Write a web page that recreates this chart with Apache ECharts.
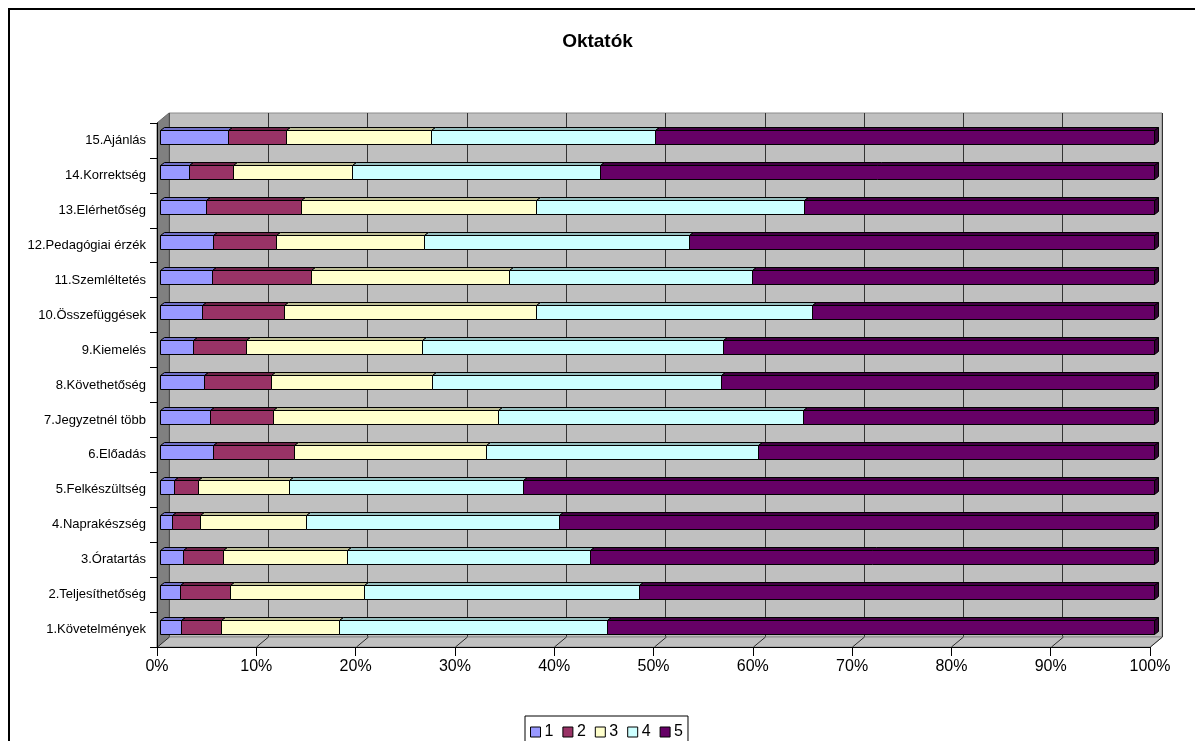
<!DOCTYPE html>
<html>
<head>
<meta charset="utf-8">
<title>Oktatók</title>
<script src="https://cdn.jsdelivr.net/npm/echarts@6/dist/echarts.min.js"></script>
<style>
  html, body { margin: 0; padding: 0; background: #fff; }
  #chart { width: 1195px; height: 741px; }
</style>
</head>
<body>
<div id="chart"></div>
<script>
// Survey items, bottom to top
const categories = [
  '1.Követelmények', '2.Teljesíthetőség', '3.Óratartás', '4.Naprakészség',
  '5.Felkészültség', '6.Előadás', '7.Jegyzetnél több', '8.Követhetőség',
  '9.Kiemelés', '10.Összefüggések', '11.Szemléltetés', '12.Pedagógiai érzék',
  '13.Elérhetőség', '14.Korrektség', '15.Ajánlás'
];

// Share of answers (%) for each rating, per item
const rating1 = [2.1, 2.0, 2.3, 1.2, 1.4, 5.3, 5.0, 4.4, 3.3, 4.2, 5.2, 5.3, 4.6, 2.9, 6.8];
const rating2 = [4.0, 5.0, 4.0, 2.8, 2.4, 8.2, 6.4, 6.8, 5.4, 8.3, 10.0, 6.4, 9.6, 4.4, 5.9];
const rating3 = [11.9, 13.5, 12.5, 10.7, 9.2, 19.3, 22.6, 16.2, 17.7, 25.3, 19.9, 14.9, 23.6, 12.0, 14.6];
const rating4 = [27.0, 27.7, 24.5, 25.4, 23.5, 27.4, 30.7, 29.0, 30.2, 27.8, 24.5, 26.6, 27.0, 25.0, 22.5];
const rating5 = [55.0, 51.8, 56.7, 59.9, 63.5, 39.8, 35.3, 43.6, 43.4, 34.4, 40.4, 46.8, 35.2, 55.7, 50.2];

const seriesNames = ['1', '2', '3', '4', '5'];
const axisTicks = [0, 10, 20, 30, 40, 50, 60, 70, 80, 90, 100];

const ratings = [rating1, rating2, rating3, rating4, rating5];
// front, top and side face colours of each rating
const faceColors = ['#9999FF', '#993366', '#FFFFCC', '#CCFFFF', '#660066'];
const topColors  = ['#7070C8', '#6E2248', '#BDBD96', '#96BDBD', '#440044'];
const sideColors = ['#5C5CA8', '#5A1B3B', '#9E9E7C', '#7C9E9E', '#330033'];

const FONT = "'Liberation Sans', Arial, Helvetica, sans-serif";

// 100% stacked segments: [categoryIndex, startPct, endPct]
const totals = categories.map((_, i) => ratings.reduce((s, r) => s + r[i], 0));
const segments = ratings.map(() => []);
categories.forEach((_, i) => {
  let acc = 0;
  ratings.forEach((r, k) => {
    const start = acc / totals[i] * 100;
    acc += r[i];
    const end = acc / totals[i] * 100;
    segments[k].push([i, start, end]);
  });
});

const DEPTH_X = 4, DEPTH_Y = 3, BAR_H = 14;

function makeRenderer(k) {
  return function (params, api) {
    const cat = api.value(0);
    const a = api.coord([api.value(1), cat]);
    const b = api.coord([api.value(2), cat]);
    const x0 = Math.round(a[0]) + 0.5, x1 = Math.round(b[0]) + 0.5;
    const y0 = Math.round(a[1] - BAR_H / 2) + 0.5, y1 = y0 + BAR_H;
    const line = { stroke: '#000', lineWidth: 1 };
    return {
      type: 'group',
      children: [
        { type: 'polygon',
          shape: { points: [[x1, y0], [x1 + DEPTH_X, y0 - DEPTH_Y], [x1 + DEPTH_X, y1 - DEPTH_Y], [x1, y1]] },
          style: Object.assign({ fill: sideColors[k] }, line) },
        { type: 'polygon',
          shape: { points: [[x0, y0], [x1, y0], [x1 + DEPTH_X, y0 - DEPTH_Y], [x0 + DEPTH_X, y0 - DEPTH_Y]] },
          style: Object.assign({ fill: topColors[k] }, line) },
        { type: 'rect',
          shape: { x: x0, y: y0, width: x1 - x0, height: BAR_H },
          style: Object.assign({ fill: faceColors[k] }, line) }
      ]
    };
  };
}

const chart = echarts.init(document.getElementById('chart'), null, { renderer: 'canvas' });

const option = {
  animation: false,
  backgroundColor: '#fff',
  textStyle: { fontFamily: FONT },
  title: {
    text: 'Oktatók',
    left: 'center',
    top: 32,
    padding: 0,
    textStyle: { fontFamily: FONT, fontWeight: 'bold', fontSize: 19, color: '#000' }
  },
  legend: {
    data: seriesNames,
    left: 525,
    top: 716,
    orient: 'horizontal',
    icon: 'rect',
    itemWidth: 10,
    itemHeight: 10,
    itemGap: 9,
    padding: [8, 5, 8, 5],
    borderColor: '#000',
    borderWidth: 1,
    backgroundColor: '#fff',
    itemStyle: { borderColor: '#000', borderWidth: 1 },
    textStyle: { fontFamily: FONT, fontSize: 16, color: '#000', padding: [0, 0, 0, -1] }
  },
  grid: [
    // back wall
    { left: 169, top: 113, width: 993, height: 524, show: true,
      backgroundColor: '#C0C0C0', borderColor: '#8C8C8C', borderWidth: 1 },
    // front axes
    { left: 157, top: 123, width: 993, height: 524, show: false },
    // bars
    { left: 160, top: 119.5, width: 994, height: 525, show: false }
  ],
  xAxis: [
    { gridIndex: 0, type: 'value', min: 0, max: 100, interval: 10,
      axisLine: { show: false }, axisTick: { show: false }, axisLabel: { show: false },
      splitLine: { show: true, lineStyle: { color: '#333', width: 1 } } },
    { gridIndex: 1, type: 'value', min: 0, max: 100, interval: 10, z: 6,
      axisLine: { show: true, lineStyle: { color: '#000', width: 1 } },
      axisTick: { show: true, length: 9, lineStyle: { color: '#000' } },
      axisLabel: { show: true, margin: 12, fontFamily: FONT, fontSize: 16, color: '#000',
        formatter: v => v + '%' },
      splitLine: { show: false } },
    { gridIndex: 2, type: 'value', min: 0, max: 100, show: false }
  ],
  yAxis: [
    { gridIndex: 0, type: 'category', data: categories, show: false },
    { gridIndex: 1, type: 'category', data: categories, z: 6,
      axisLine: { show: true, lineStyle: { color: '#000', width: 1 } },
      axisTick: { show: true, length: 7, lineStyle: { color: '#000' } },
      axisLabel: { show: true, margin: 11, fontFamily: FONT, fontSize: 13, color: '#000' },
      splitLine: { show: false } },
    { gridIndex: 2, type: 'category', data: categories, show: false }
  ],
  series: ratings.map((_, k) => ({
    name: seriesNames[k],
    type: 'custom',
    xAxisIndex: 2,
    yAxisIndex: 2,
    z: 4,
    itemStyle: { color: faceColors[k], borderColor: '#000', borderWidth: 1 },
    encode: { x: [1, 2], y: 0 },
    data: segments[k],
    renderItem: makeRenderer(k)
  }))
};

chart.setOption(option);

// Side wall, floor and floor grid lines, placed from the axes' own scales
const back0 = chart.convertToPixel({ xAxisIndex: 0 }, 0);
const back100 = chart.convertToPixel({ xAxisIndex: 0 }, 100);
const front0 = chart.convertToPixel({ xAxisIndex: 1 }, 0);
const front100 = chart.convertToPixel({ xAxisIndex: 1 }, 100);
const backTop = 113, backBottom = 637, frontTop = 123, frontBottom = 647;

const graphics = [
  // outer chart frame
  { type: 'rect', z: 0, shape: { x: 9, y: 9, width: 1200, height: 760 },
    style: { fill: null, stroke: '#000', lineWidth: 2 } },
  // left side wall
  { type: 'polygon', z: 1,
    shape: { points: [[front0, frontTop], [back0, backTop], [back0, backBottom], [front0, frontBottom]] },
    style: { fill: '#808080', stroke: '#6a6a6a', lineWidth: 1 } },
  // floor
  { type: 'polygon', z: 1,
    shape: { points: [[front0, frontBottom], [front100, frontBottom], [back100, backBottom], [back0, backBottom]] },
    style: { fill: '#C0C0C0', stroke: '#8C8C8C', lineWidth: 1 } }
];
axisTicks.forEach(v => {
  const fx = chart.convertToPixel({ xAxisIndex: 1 }, v);
  const bx = chart.convertToPixel({ xAxisIndex: 0 }, v);
  graphics.push({ type: 'line', z: 2,
    shape: { x1: Math.round(fx) + 0.5, y1: frontBottom, x2: Math.round(bx) + 0.5, y2: backBottom },
    style: { stroke: '#2a2a2a', lineWidth: 1 } });
});
chart.setOption({ graphic: graphics });
</script>
</body>
</html>
